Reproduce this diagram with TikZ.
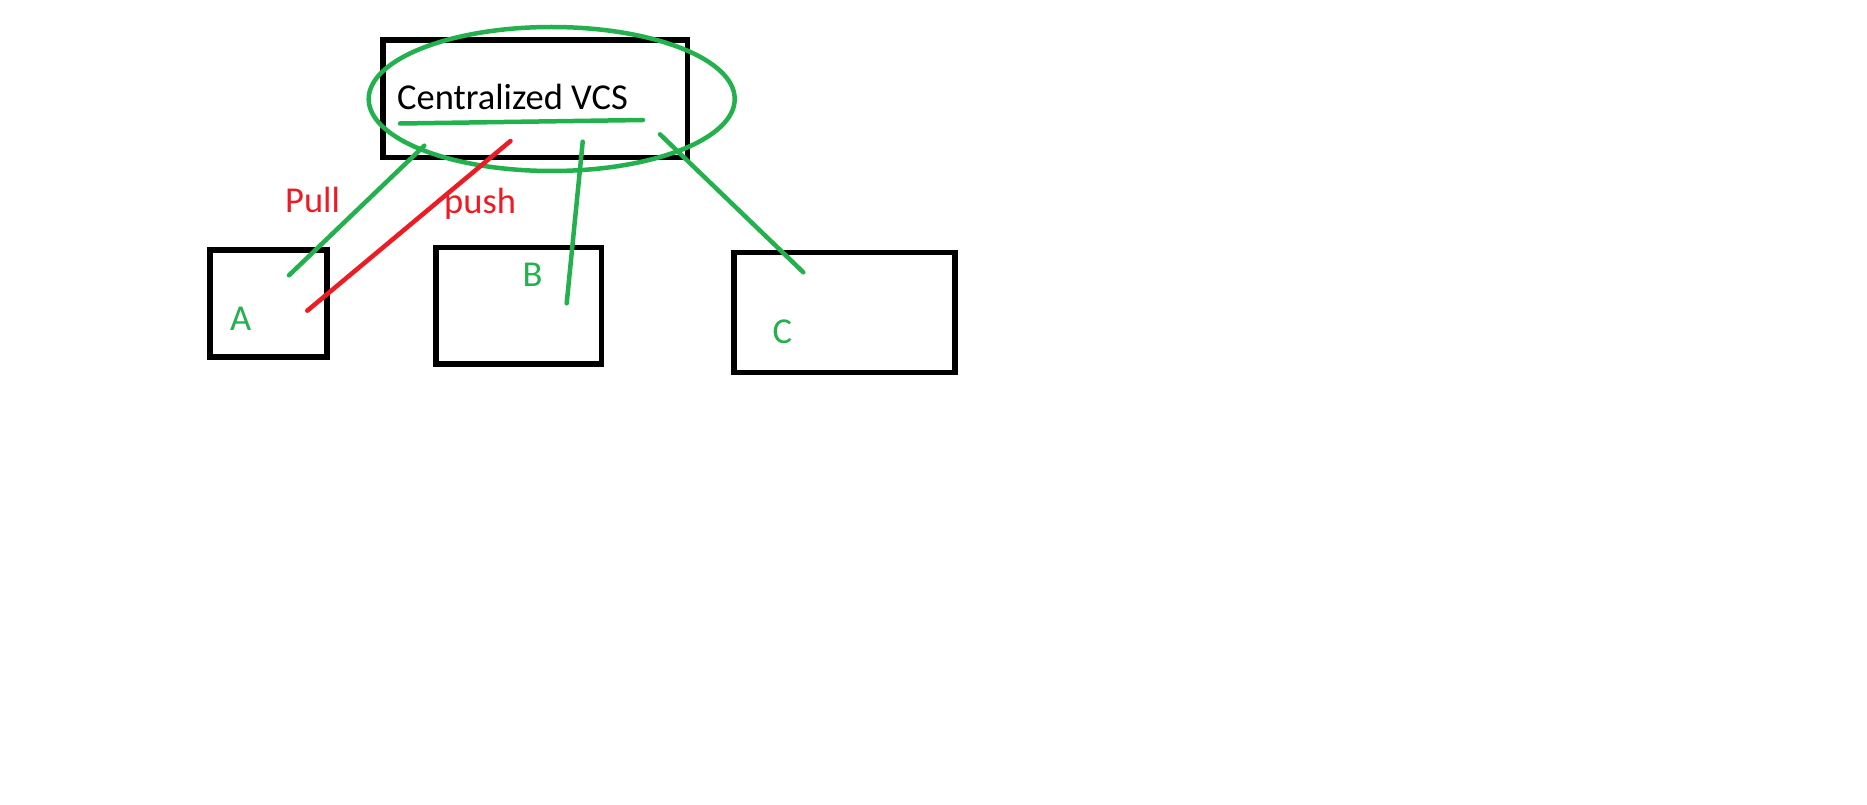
\documentclass[tikz,border=0pt]{standalone}
\usepackage{fontspec}
\setmainfont{Carlito}
\usetikzlibrary{shapes.geometric}
\definecolor{pgreen}{RGB}{34,177,76}
\definecolor{pred}{RGB}{237,28,36}
\tikzset{
  box/.style={draw=black, line width=5.5pt, rectangle, inner sep=0pt, fill=none},
  oval/.style={draw=pgreen, line width=4.5pt, ellipse, inner sep=0pt},
  lbl/.style={inner sep=0pt, anchor=base west, font=\fontsize{36.5}{44}\selectfont},
  gline/.style={draw=pgreen, line width=4.5pt, line cap=round},
  rline/.style={draw=pred, line width=4.5pt, line cap=round}
}
\begin{document}
\begin{tikzpicture}[x=1pt,y=-1pt]
\useasboundingbox[fill=white] (0,0) rectangle (1867,805);
% boxes
\node[box, minimum width=304.5pt, minimum height=117.5pt] (top) at (535.25,98.75) {};
\node[box, minimum width=117pt, minimum height=107pt] (boxA) at (268.5,303.5) {};
\node[box, minimum width=165.5pt, minimum height=116.5pt] (boxB) at (518.75,305.75) {};
\node[box, minimum width=221pt, minimum height=120pt] (boxC) at (844.5,312.5) {};
% ellipse
\node[oval, minimum width=366pt, minimum height=144pt] (ell) at (551.7,99) {};
% labels
\node[lbl, text=black] (title) at (397,110) {Centralized VCS};
\node[lbl, text=pgreen] (la) at (230,330) {A};
\node[lbl, text=pgreen] (lb) at (522.5,286) {B};
\node[lbl, text=pgreen] (lc) at (772.5,343.3) {C};
\node[lbl, text=pred] (pull) at (285,212.3) {Pull};
\node[lbl, text=pred] (push) at (444,213.3) {push};
% connector end points
\coordinate (u1) at (400,123.5);
\coordinate (u2) at (643,120);
\coordinate (a1) at (289,275.3);
\coordinate (a2) at (424.3,145.7);
\coordinate (r1) at (307.3,310.7);
\coordinate (r2) at (510.5,141);
\coordinate (b1) at (566.7,303.3);
\coordinate (b2) at (582.7,141.7);
\coordinate (c1) at (660,134.3);
\coordinate (c2) at (803.3,272.3);
% connectors
\draw[gline] (u1) -- (u2);
\draw[gline] (a2) -- (a1);
\draw[rline] (r2) -- (r1);
\draw[gline] (b2) -- (b1);
\draw[gline] (c1) -- (c2);
\end{tikzpicture}
\end{document}
